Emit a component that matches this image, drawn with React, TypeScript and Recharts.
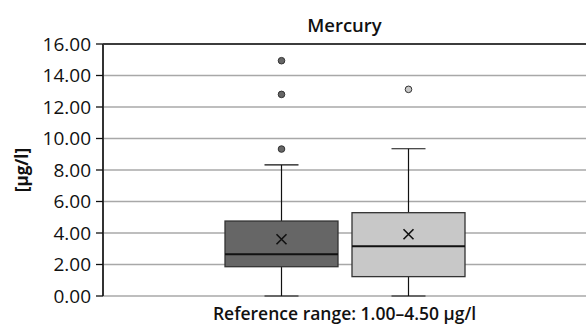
import { Bar, CartesianGrid, ComposedChart, ReferenceLine, XAxis, YAxis } from "recharts";

// Box & whisker stats (µg/l)
const groups = ["Mercury"];
const seriesKeys = ["s1", "s2"];
const minVals = [0, 0];
const q1Vals = [1.86, 1.23];
const medianVals = [2.65, 3.16];
const q3Vals = [4.76, 5.29];
const maxVals = [8.32, 9.35];
const meanVals = [3.6, 3.92];
const outliers = [[9.33, 12.8, 14.94], [13.12]];
const fills = ["#666666", "#c8c8c8"];
const yTicks = [0, 2, 4, 6, 8, 10, 12, 14, 16];

const font = "'Open Sans', 'DejaVu Sans', sans-serif";

// one row per category, each series is a ranged bar spanning min..highest point
const rows = groups.map((g) => {
  const row: Record<string, unknown> = { name: g };
  seriesKeys.forEach((k, i) => {
    row[k] = [minVals[i], Math.max(maxVals[i], ...outliers[i])];
  });
  return row;
});

function boxShape(i: number) {
  return (props: any) => {
    const { x, y, width, height } = props;
    const lo = minVals[i];
    const hi = Math.max(maxVals[i], ...outliers[i]);
    const top = Math.min(y, y + height);
    const h = Math.abs(height);
    const py = (v: number) => top + (h * (hi - v)) / (hi - lo);
    const cx = x + width / 2;
    const cap = 34;
    const m = py(meanVals[i]);
    return (
      <g>
        <line x1={cx} x2={cx} y1={py(maxVals[i])} y2={py(q3Vals[i])} stroke="#111" strokeWidth={1.2} />
        <line x1={cx} x2={cx} y1={py(q1Vals[i])} y2={py(minVals[i])} stroke="#111" strokeWidth={1.2} />
        <line x1={cx - cap / 2} x2={cx + cap / 2} y1={py(maxVals[i])} y2={py(maxVals[i])} stroke="#111" strokeWidth={1.2} />
        <line x1={cx - cap / 2} x2={cx + cap / 2} y1={py(minVals[i])} y2={py(minVals[i])} stroke="#111" strokeWidth={1.2} />
        <rect
          x={x}
          y={py(q3Vals[i])}
          width={width}
          height={py(q1Vals[i]) - py(q3Vals[i])}
          fill={fills[i]}
          stroke="#333"
          strokeWidth={1.3}
        />
        <line x1={x} x2={x + width} y1={py(medianVals[i])} y2={py(medianVals[i])} stroke="#111" strokeWidth={2} />
        <path d={`M${cx - 5},${m - 5}L${cx + 5},${m + 5}M${cx - 5},${m + 5}L${cx + 5},${m - 5}`} stroke="#111" strokeWidth={1.6} />
        {outliers[i].map((v) => (
          <circle key={v} cx={cx} cy={py(v)} r={3.3} fill={fills[i]} stroke="#333" strokeWidth={1} />
        ))}
      </g>
    );
  };
}

export default function App() {
  return (
    <div style={{ position: "absolute", left: 0, top: 0, width: 586, height: 326, background: "#fff", fontFamily: font, overflow: "hidden" }}>
      <div
        style={{
          position: "absolute", left: 103, width: 483, top: 12, textAlign: "center",
          fontSize: 18.5, fontWeight: 600, color: "#111", lineHeight: "26px",
        }}
      >
        Mercury
      </div>
      <ComposedChart
        width={586}
        height={326}
        data={rows}
        margin={{ top: 44, right: 0, bottom: 30, left: 0 }}
        barGap={14}
        barSize={113}
      >
        <CartesianGrid vertical={false} stroke="#a8a8a8" strokeWidth={1.3} />
        <XAxis dataKey="name" tick={false} tickLine={false} axisLine={{ stroke: "#111", strokeWidth: 1.3 }} height={0} />
        <YAxis
          domain={[0, 16]}
          ticks={yTicks}
          interval={0}
          width={103}
          tickFormatter={(v: number) => v.toFixed(2)}
          tick={{ fill: "#111", fontSize: 19, fontFamily: font }}
          tickSize={7}
          tickMargin={5}
          tickLine={{ stroke: "#111", strokeWidth: 1.3 }}
          axisLine={{ stroke: "#333", strokeWidth: 2 }}
          label={{
            value: "[µg/l]", angle: -90, position: "insideLeft", offset: 22,
            style: { fill: "#111", fontSize: 17, fontWeight: 700, fontFamily: font, textAnchor: "middle" },
          }}
        />
        <ReferenceLine y={16} stroke="#111" strokeWidth={1.5} />
        {seriesKeys.map((k, i) => (
          <Bar key={k} dataKey={k} isAnimationActive={false} shape={boxShape(i)} />
        ))}
      </ComposedChart>
      <div
        style={{
          position: "absolute", left: 103, width: 483, top: 302, textAlign: "center",
          fontSize: 17.5, fontWeight: 600, color: "#111", lineHeight: "22px",
        }}
      >
        Reference range: 1.00–4.50 µg/l
      </div>
    </div>
  );
}
